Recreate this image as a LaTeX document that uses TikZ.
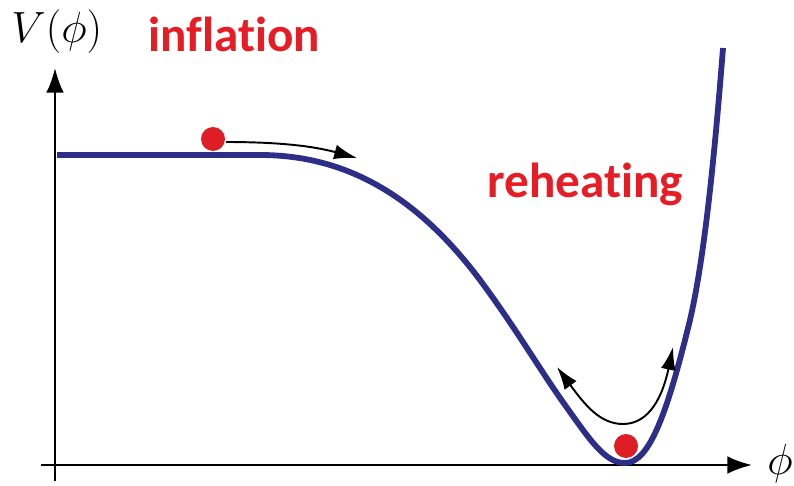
\documentclass[tikz,border=0pt]{standalone}
\usepackage{fontspec}
\newfontfamily\labfont{Carlito}[Ligatures=NoCommon]
\usetikzlibrary{arrows.meta}
\definecolor{curvenavy}{RGB}{44,46,136}
\definecolor{labred}{RGB}{232,28,36}
\definecolor{ballred}{RGB}{222,30,36}
\newlength{\pxu}\setlength{\pxu}{0.02cm}
\tikzset{
  axis/.style={line width=1.3pt, -{Latex[length=14pt,width=10pt]}},
  potential/.style={line width=3.3pt, curvenavy},
  motionhead/.tip={Latex[length=13pt,width=8.5pt]},
  motion/.style={line width=1.1pt, -motionhead},
  ball/.style={circle, fill=ballred, minimum size=24\pxu, inner sep=0pt},
  redlabel/.style={labred, font=\labfont\bfseries\fontsize{28}{32}\selectfont, anchor=base west, inner sep=0pt},
  mathlabel/.style={font=\fontsize{24}{28}\selectfont, anchor=base west, inner sep=0pt}
}
\begin{document}
\begin{tikzpicture}[x=0.02cm, y=-0.02cm]
\useasboundingbox (0,0) rectangle (794,486);
% axes
\coordinate (xs) at (41,465);
\coordinate (xe) at (752,465);
\coordinate (ys) at (55,481);
\coordinate (ye) at (55,68);
\draw[axis] (xs) -- (xe);
\draw[axis] (ys) -- (ye);
\node[mathlabel] (vlab) at (11,43) {$V(\phi)$};
\node[mathlabel] (philab) at (767,474) {$\phi$};
% potential
\draw[potential] (57,155) -- (260,155)
  .. controls (350,155) and (420,200) .. (480,280)
  .. controls (515,327) and (540,370) .. (565,405)
  .. controls (590,440) and (605,463) .. (625,463)
  .. controls (650,463) and (668,410) .. (690,320)
  .. controls (705,255) and (715,150) .. (723,48);
% balls
\node[ball] (b1) at (213,139) {};
\node[ball] (b2) at (626,446) {};
% motion arrows
\coordinate (a1s) at (226,142);
\coordinate (a1e) at (357,158);
\draw[motion] (a1s) .. controls (290,142) and (320,148) .. (a1e);
\coordinate (a2l) at (557,367);
\coordinate (a2m) at (623,424);
\coordinate (a2r) at (673,347);
\draw[motion, motionhead-motionhead] (a2l) .. controls (585,405) and (600,424) .. (a2m) .. controls (650,424) and (663,395) .. (a2r);
% labels
\node[redlabel] (infl) at (148,52) {inflation};
\node[redlabel] (reh) at (487,197) {reheating};
\end{tikzpicture}
\end{document}
